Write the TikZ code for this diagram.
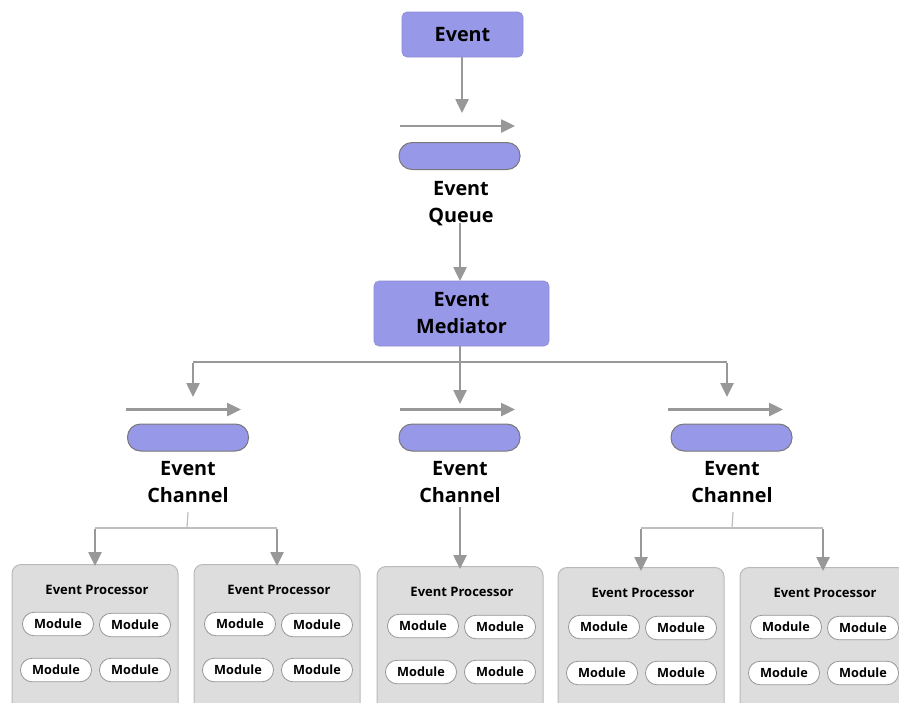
\documentclass[tikz,border=0pt]{standalone}
\usepackage{fontspec}
\setmainfont{Open Sans}
\usetikzlibrary{arrows.meta}
\definecolor{lav}{RGB}{152,152,232}
\definecolor{lavline}{RGB}{140,140,215}
\definecolor{pillline}{RGB}{120,120,120}
\definecolor{arr}{RGB}{152,152,152}
\definecolor{thinline}{RGB}{190,190,190}
\definecolor{procfill}{RGB}{221,221,221}
\definecolor{procline}{RGB}{185,185,185}
\definecolor{modline}{RGB}{150,150,150}
\tikzset{
  bigtext/.style={font=\bfseries\fontsize{19.8}{27}\selectfont},
  lavbox/.style={bigtext, fill=lav, draw=lavline, line width=0.6pt, rounded corners=5pt, align=center, inner sep=0pt},
  pill/.style={fill=lav, draw=pillline, line width=1pt, rounded corners=13pt, minimum width=121pt, minimum height=27pt, inner sep=0pt},
  caption/.style={bigtext, align=center, inner sep=0pt},
  flow/.style={draw=arr, line width=2.5pt, -{Triangle[length=14pt,width=13pt]}},
  bus/.style={draw=arr, line width=2pt},
  faint/.style={draw=thinline, line width=1.2pt},
  proc/.style={fill=procfill, draw=procline, line width=1pt, rounded corners=9pt, minimum width=166pt, minimum height=170pt, anchor=north, inner sep=0pt},
  ptitle/.style={font=\bfseries\fontsize{13}{15}\selectfont, inner sep=0pt},
  module/.style={fill=white, draw=modline, line width=0.8pt, rounded corners=11.5pt, minimum width=71pt, minimum height=23.5pt, inner sep=0pt, font=\bfseries\fontsize{12.7}{14}\selectfont}
}
\begin{document}
\begin{tikzpicture}[x=1pt,y=-1pt]
\useasboundingbox (0,0) rectangle (899,702);

% event source and queue
\node[lavbox, minimum width=121pt, minimum height=45pt] (ev) at (462.5,34.5) {Event};
\coordinate (qin) at (462,113);
\draw[flow] (ev.south -| qin) -- (qin);
\coordinate (q0) at (400,126);
\coordinate (q1) at (515,126);
\draw[flow] (q0) -- (q1);
\node[pill] (qpill) at (459.5,156) {};
\node[caption] (qlab) at (461,203.5) {Event\\Queue};

% mediator
\node[lavbox, minimum width=175pt, minimum height=65pt] (med) at (461.5,313.5) {Event\\Mediator};
\coordinate (mtop) at (460,281);
\draw[flow] ([yshift=3pt]qlab.south -| mtop) -- (mtop);

% fan-out from the mediator
\coordinate (mb) at (460,362);
\coordinate (m1) at (193,397);
\coordinate (m2) at (460,404);
\coordinate (m3) at (727,397);
\draw[bus] (m1 |- mb) -- (m3 |- mb);
\draw[flow] (med.south -| m2) -- (m2);
\draw[flow] ([yshift=-1pt]m1 |- mb) -- (m1);
\draw[flow] ([yshift=-1pt]m3 |- mb) -- (m3);

% channels
\foreach \i/\ax/\px/\lx in {1/126/188/188, 2/400/459.5/460, 3/668/731.5/732}{
  \coordinate (c\i a) at (\ax,409.5);
  \coordinate (c\i b) at (\ax+115,409.5);
  \draw[flow] (c\i a) -- (c\i b);
  \node[pill] (c\i) at (\px,437.5) {};
  \node[caption] (c\i lab) at (\lx,482.5) {Event\\Channel};
}

% event processors with their modules
\foreach \i/\cx/\top in {1/95/564, 2/277/564, 3/460/566, 4/641/567, 5/823/567}{
  \node[proc] (p\i) at (\cx,\top) {};
  \node[ptitle] (p\i t) at (\cx+2,\top+26) {Event Processor};
  \node[module] (p\i a) at (\cx-37,\top+60) {Module};
  \node[module] (p\i b) at (\cx+40,\top+61) {Module};
  \node[module] (p\i c) at (\cx-39,\top+106) {Module};
  \node[module] (p\i d) at (\cx+40,\top+106) {Module};
}

% channel 1 splits to two processors
\coordinate (s1) at (187,528);
\draw[faint] (188,512) -- (s1);
\draw[faint] (p1.north |- s1) -- (p2.north |- s1);
\draw[flow] ([yshift=-1pt]p1.north |- s1) -- ([yshift=-2pt]p1.north);
\draw[flow] ([yshift=-1pt]p2.north |- s1) -- ([yshift=-2pt]p2.north);

% channel 2 feeds one processor
\draw[flow] ([yshift=-4pt]c2lab.south -| p3.north) -- ([yshift=-3pt]p3.north);

% channel 3 splits to two processors
\coordinate (s3) at (732,528);
\draw[faint] (733,512) -- (s3);
\draw[faint] (p4.north |- s3) -- (p5.north |- s3);
\draw[flow] ([yshift=-1pt]p4.north |- s3) -- ([yshift=-4pt]p4.north);
\draw[flow] ([yshift=-1pt]p5.north |- s3) -- ([yshift=-4pt]p5.north);
\end{tikzpicture}
\end{document}
